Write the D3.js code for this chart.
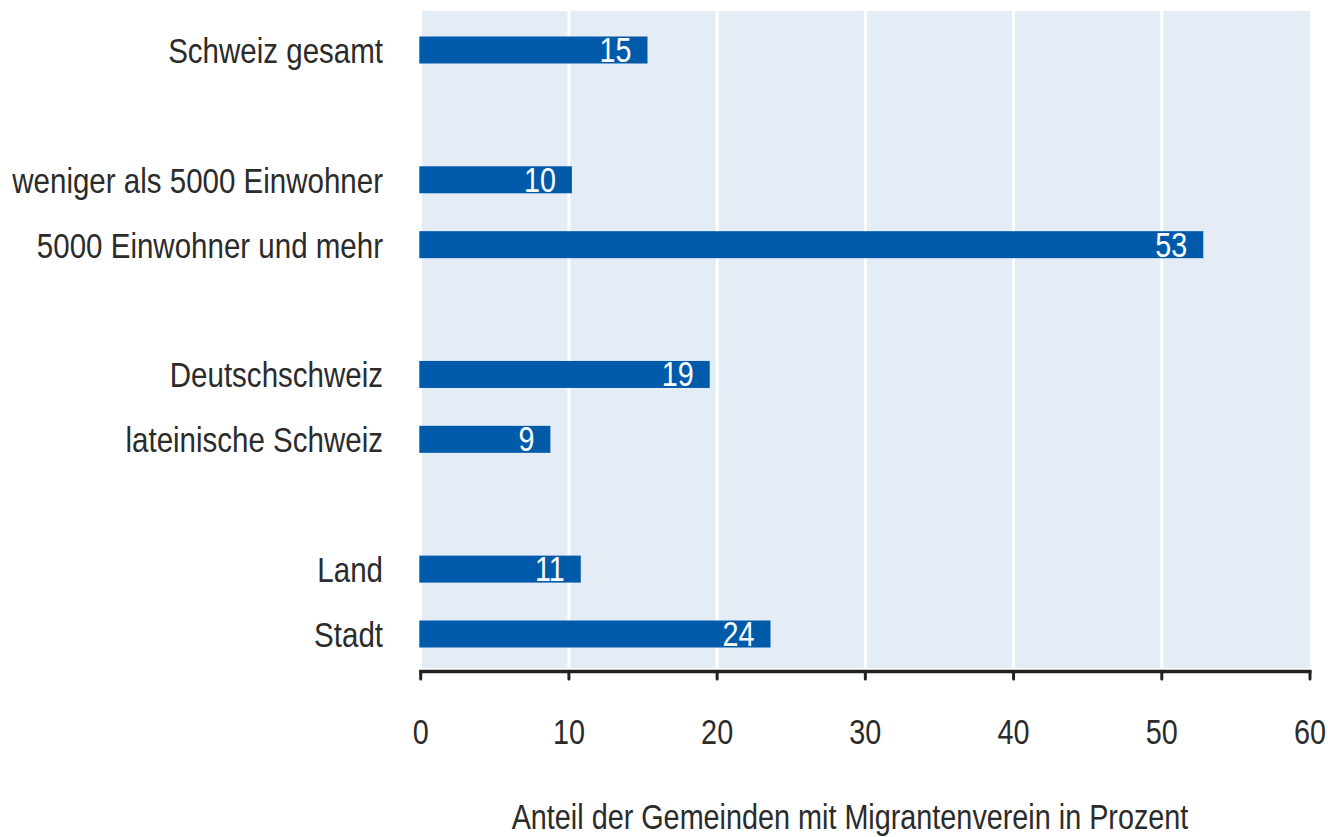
<!DOCTYPE html>
<html>
<head>
<meta charset="utf-8">
<script src="https://cdn.jsdelivr.net/npm/d3@7"></script>
<style>
  html, body { margin: 0; padding: 0; background: #fff; }
  svg { display: block; }
  text { font-family: "Liberation Sans", Arial, sans-serif; }
</style>
</head>
<body>
<svg id="chart" width="1328" height="837"></svg>
<script>
// ---- data ----
const slots = ["s0", "gap1", "s2", "s3", "gap4", "s5", "s6", "gap7", "s8", "s9"];
const categories = ["Schweiz gesamt", "weniger als 5000 Einwohner", "5000 Einwohner und mehr",
  "Deutschschweiz", "lateinische Schweiz", "Land", "Stadt"];
const categorySlots = ["s0", "s2", "s3", "s5", "s6", "s8", "s9"];
const values = [15.3, 10.2, 52.8, 19.5, 8.75, 10.8, 23.6];
const valueLabels = ["15", "10", "53", "19", "9", "11", "24"];
const xTicks = [0, 10, 20, 30, 40, 50, 60];
const xTitle = "Anteil der Gemeinden mit Migrantenverein in Prozent";

// ---- layout ----
const svg = d3.select("#chart");
const plotTop = 11, plotBottom = 668, axisY = 671.5;
const x = d3.scaleLinear().domain([0, 60]).range([420.7, 1310]);
const y = d3.scalePoint().domain(slots).range([50, 634]);
const barH = 27;
const textColor = "#2b2b2b";

function condensedText(g, tx, ty, str, anchor, size, fill, sx) {
  return g.append("text")
    .attr("transform", `translate(${tx},${ty}) scale(${sx},1)`)
    .attr("text-anchor", anchor)
    .attr("font-size", size)
    .attr("fill", fill)
    .text(str);
}

// background
svg.append("rect")
  .attr("x", x(0) + 1.3).attr("y", plotTop)
  .attr("width", x(60) - x(0) - 1.3).attr("height", plotBottom - plotTop)
  .attr("fill", "#e4ecf6");

// gridlines
svg.append("g").selectAll("line")
  .data(xTicks.filter(d => d > 0 && d < 60))
  .join("line")
  .attr("x1", d => x(d)).attr("x2", d => x(d))
  .attr("y1", plotTop).attr("y2", plotBottom)
  .attr("stroke", "#fff").attr("stroke-width", 3);

// bars
svg.append("g").selectAll("rect")
  .data(values)
  .join("rect")
  .attr("x", x(0) - 1.4)
  .attr("y", (d, i) => y(categorySlots[i]) - barH / 2)
  .attr("width", d => x(d) - x(0) + 1.4)
  .attr("height", barH)
  .attr("fill", "#005aaa");

// value labels
const vl = svg.append("g");
values.forEach((v, i) => {
  condensedText(vl, x(v) - 16, y(categorySlots[i]) + 12, valueLabels[i], "end", 35, "#fff", 0.82);
});

// category labels
const cl = svg.append("g");
categories.forEach((c, i) => {
  condensedText(cl, 383, y(categorySlots[i]) + 13, c, "end", 36, textColor, 0.82);
});

// axis
const axisG = svg.append("g");
axisG.append("line")
  .attr("x1", x(0) - 1.5).attr("x2", x(60) + 1.5)
  .attr("y1", axisY).attr("y2", axisY)
  .attr("stroke", "#222").attr("stroke-width", 3.5);
axisG.selectAll("line.tick")
  .data(xTicks)
  .join("line")
  .attr("class", "tick")
  .attr("x1", d => x(d)).attr("x2", d => x(d))
  .attr("y1", axisY).attr("y2", 679)
  .attr("stroke", "#222").attr("stroke-width", 3)
  .attr("stroke-linecap", "round");
xTicks.forEach(t => {
  condensedText(axisG, x(t), 744, String(t), "middle", 36, textColor, 0.8);
});

// axis title
condensedText(svg, 850, 829, xTitle, "middle", 36, textColor, 0.8);
</script>
</body>
</html>
